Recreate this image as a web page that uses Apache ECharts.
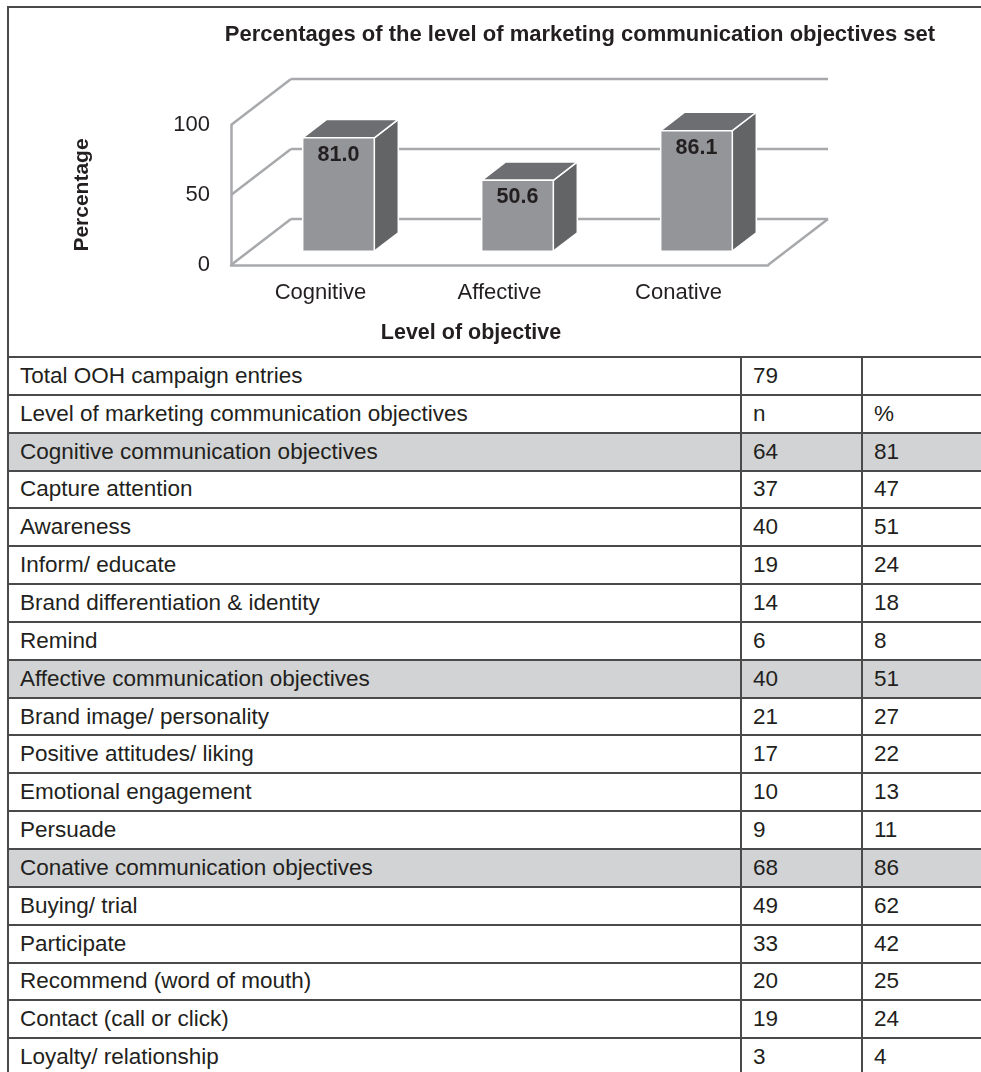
<!DOCTYPE html>
<html>
<head>
<meta charset="utf-8">
<script src="https://cdn.jsdelivr.net/npm/echarts@6/dist/echarts.min.js"></script>
<style>
html,body{margin:0;padding:0;background:#fff;overflow:hidden;width:981px;height:1072px;}
#frame{position:absolute;left:7px;top:6px;width:1000px;height:360px;border-left:2px solid #4a4a4a;border-top:2px solid #4a4a4a;}
#chart{position:absolute;left:0;top:0;width:981px;height:357px;}
#tbl{position:absolute;left:7px;top:356px;width:1054px;border-collapse:collapse;table-layout:fixed;font-family:"Liberation Sans",Arial,sans-serif;font-size:22.5px;color:#231f20;background:#fff;}
#tbl td{border:2px solid #4a4a4a;padding:0 0 0 11px;white-space:nowrap;overflow:hidden;}
#tbl tr{height:37.85px;}
#tbl tr.shade td{background:#d1d3d4;}
</style>
</head>
<body>
<div id="frame"></div>
<div id="chart"></div>
<table id="tbl"><colgroup><col style="width:733px"><col style="width:121px"><col style="width:200px"></colgroup><tbody></tbody></table>
<script>
// ---- chart data ----
const categories = ['Cognitive', 'Affective', 'Conative'];
const percentages = [81.0, 50.6, 86.1];
const yTicks = [0, 50, 100];

// ---- table data ----
const rowLabels = [
  'Total OOH campaign entries',
  'Level of marketing communication objectives',
  'Cognitive communication objectives',
  'Capture attention',
  'Awareness',
  'Inform/ educate',
  'Brand differentiation & identity',
  'Remind',
  'Affective communication objectives',
  'Brand image/ personality',
  'Positive attitudes/ liking',
  'Emotional engagement',
  'Persuade',
  'Conative communication objectives',
  'Buying/ trial',
  'Participate',
  'Recommend (word of mouth)',
  'Contact (call or click)',
  'Loyalty/ relationship'
];
const rowN = ['79', 'n', '64', '37', '40', '19', '14', '6', '40', '21', '17', '10', '9', '68', '49', '33', '20', '19', '3'];
const rowPct = ['', '%', '81', '47', '51', '24', '18', '8', '51', '27', '22', '13', '11', '86', '62', '42', '25', '24', '4'];
const shadedRows = [2, 8, 13];

// build table
const tbody = document.querySelector('#tbl tbody');
rowLabels.forEach((lab, i) => {
  const tr = document.createElement('tr');
  if (shadedRows.includes(i)) tr.className = 'shade';
  [lab, rowN[i], rowPct[i]].forEach(t => {
    const td = document.createElement('td');
    td.textContent = t;
    tr.appendChild(td);
  });
  tbody.appendChild(tr);
});

// ---- chart ----
const FONT = '"Liberation Sans", Arial, sans-serif';
const DX = 60, DY = -46;        // depth offset of the 3D box
const F1 = 0.3, F2 = 0.7;       // bar depth (front / back fraction)
const GRID_COLOR = '#a7a9ac';

const chart = echarts.init(document.getElementById('chart'), null, {renderer: 'canvas'});
const option = {
  animation: false,
  grid: {left: 231, top: 125, width: 537, height: 140},
  xAxis: {
    type: 'category',
    data: categories,
    axisLine: {lineStyle: {color: GRID_COLOR, width: 2.5}},
    axisTick: {show: false},
    splitLine: {show: false},
    axisLabel: {fontSize: 22, color: '#231f20', margin: 17, fontFamily: FONT}
  },
  yAxis: {
    type: 'value',
    min: 0, max: 100, interval: 50,
    axisLine: {show: true, lineStyle: {color: GRID_COLOR, width: 2.5}},
    axisTick: {show: false},
    splitLine: {show: false},
    axisLabel: {fontSize: 22, color: '#231f20', margin: 21, fontFamily: FONT},
    name: 'Percentage',
    nameLocation: 'middle',
    nameGap: 138,
    nameTextStyle: {fontSize: 21, fontWeight: 'bold', color: '#231f20', fontFamily: FONT}
  },
  graphic: [
    {type: 'text', x: 580, y: 35, style: {text: 'Percentages of the level of marketing communication objectives set', font: 'bold 22px ' + FONT, fill: '#231f20', textAlign: 'center', textVerticalAlign: 'middle'}},
    {type: 'text', x: 471, y: 333, style: {text: 'Level of objective', font: 'bold 21.5px ' + FONT, fill: '#231f20', textAlign: 'center', textVerticalAlign: 'middle'}}
  ],
  series: [
    {
      type: 'custom',
      name: 'walls',
      z: 1,
      clip: false,
      silent: true,
      encode: {x: 0, y: 1},
      data: yTicks.map(v => [0, v]),
      renderItem: function (params, api) {
        const cs = params.coordSys;
        const v = api.value(1);
        const y = api.coord([0, v])[1];
        const x0 = cs.x, x1 = cs.x + cs.width;
        const st = {stroke: GRID_COLOR, lineWidth: 2.5, fill: null};
        const children = [
          {type: 'line', shape: {x1: x0, y1: y, x2: x0 + DX, y2: y + DY}, style: st},
          {type: 'line', shape: {x1: x0 + DX, y1: y + DY, x2: x1 + DX, y2: y + DY}, style: st}
        ];
        if (v === yTicks[0]) {
          children.push({type: 'line', shape: {x1: x1, y1: y, x2: x1 + DX, y2: y + DY}, style: st});
        }
        return {type: 'group', children: children};
      }
    },
    {
      type: 'custom',
      name: 'Percentage',
      z: 5,
      clip: false,
      encode: {x: 0, y: 1},
      data: percentages.map((v, i) => [i, v]),
      renderItem: function (params, api) {
        const i = api.value(0), v = api.value(1);
        const top = api.coord([i, v]);
        const base = api.coord([i, 0]);
        const bw = api.size([1, 0])[0] * 0.4;
        const ox1 = DX * F1, oy1 = DY * F1;
        const ddx = DX * (F2 - F1), ddy = DY * (F2 - F1);
        const L = top[0] - bw / 2 + ox1, R = top[0] + bw / 2 + ox1;
        const T = top[1] + oy1, B = base[1] + oy1;
        const edge = {stroke: '#ffffff', lineWidth: 1.5, lineJoin: 'round'};
        return {
          type: 'group',
          children: [
            {type: 'polygon', shape: {points: [[R, T], [R + ddx, T + ddy], [R + ddx, B + ddy], [R, B]]}, style: Object.assign({fill: '#636466'}, edge)},
            {type: 'polygon', shape: {points: [[L, T], [L + ddx, T + ddy], [R + ddx, T + ddy], [R, T]]}, style: Object.assign({fill: '#6d6e71'}, edge)},
            {type: 'rect', shape: {x: L, y: T, width: R - L, height: B - T}, style: Object.assign({fill: '#939598'}, edge)},
            {type: 'text', style: {x: (L + R) / 2, y: T + 17, text: v.toFixed(1), font: 'bold 21.5px ' + FONT, fill: '#231f20', textAlign: 'center', textVerticalAlign: 'middle'}}
          ]
        };
      }
    }
  ]
};
chart.setOption(option);
</script>
</body>
</html>
